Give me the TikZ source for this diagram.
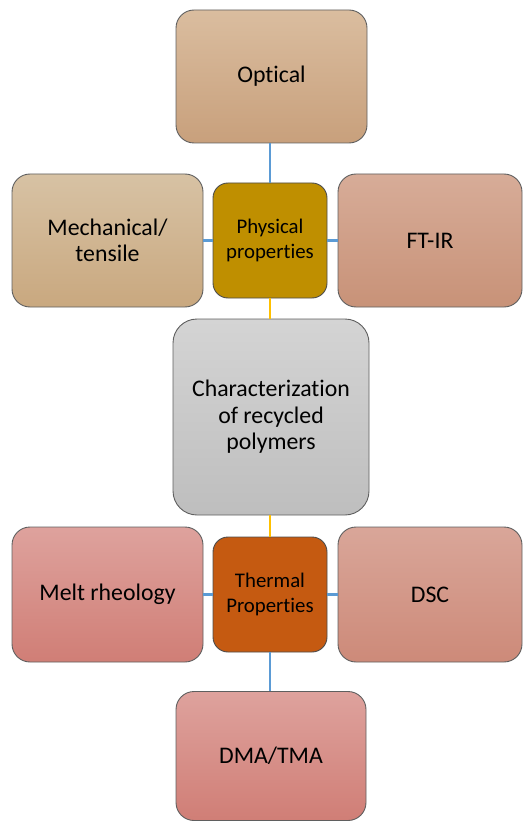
\documentclass[tikz,border=0pt]{standalone}
\usepackage{fontspec}
\setmainfont{Carlito}[Ligatures={NoCommon,NoRare}]
\newcommand{\nolig}{\kern0pt\relax}
\definecolor{linkblue}{RGB}{91,155,213}
\definecolor{linkgold}{RGB}{255,192,0}
\definecolor{edgegray}{RGB}{95,95,95}
\definecolor{optT}{RGB}{218,189,159}
\definecolor{optB}{RGB}{200,160,124}
\definecolor{mecT}{RGB}{215,194,164}
\definecolor{mecB}{RGB}{201,168,127}
\definecolor{ftT}{RGB}{215,172,152}
\definecolor{ftB}{RGB}{200,146,120}
\definecolor{chT}{RGB}{212,212,212}
\definecolor{chB}{RGB}{190,190,190}
\definecolor{meT}{RGB}{222,162,157}
\definecolor{meB}{RGB}{208,126,118}
\definecolor{dsT}{RGB}{217,166,153}
\definecolor{dsB}{RGB}{205,138,121}
\definecolor{physfill}{RGB}{191,143,0}
\definecolor{thermfill}{RGB}{197,90,17}
\tikzset{
  bigbox/.style={draw=edgegray, line width=0.9pt, rounded corners=18pt, inner sep=0pt, align=center,
    font=\fontsize{23.8}{26.5}\selectfont, text=black},
  smallbox/.style={draw=edgegray!80!black, line width=0.9pt, rounded corners=15pt, inner sep=0pt, align=center,
    font=\fontsize{20.8}{25}\selectfont, text=black, minimum width=114pt, minimum height=115pt},
  bluelink/.style={draw=linkblue, line width=2.2pt},
  goldlink/.style={draw=linkgold, line width=2.2pt}
}
\begin{document}
\begin{tikzpicture}[x=1pt,y=-1pt]
\useasboundingbox (0,0) rectangle (525,821);
\node[bigbox, top color=optT, bottom color=optB, minimum width=191pt, minimum height=133pt] (opt) at (271.5,76.5) {Optical};
\node[bigbox, top color=mecT, bottom color=mecB, minimum width=191pt, minimum height=133pt] (mec) at (107.5,240.5) {Mechanical/\\tensile};
\node[smallbox, fill=physfill] (phys) at (270,240.5) {Physical\\propert\nolig ies};
\node[bigbox, top color=ftT, bottom color=ftB, minimum width=184pt, minimum height=133pt] (ftir) at (430,240.5) {FT-IR};
\node[bigbox, rounded corners=24pt, top color=chT, bottom color=chB, minimum width=196pt, minimum height=196pt] (char) at (271,417) {Characterizat\nolig ion\\of recycled\\polymers};
\node[bigbox, top color=meT, bottom color=meB, minimum width=191pt, minimum height=135pt] (melt) at (107.5,594.5) {Melt rheology};
\node[smallbox, fill=thermfill] (therm) at (270,594.5) {Thermal\\Propert\nolig ies};
\node[bigbox, top color=dsT, bottom color=dsB, minimum width=184pt, minimum height=135pt] (dsc) at (430,594.5) {DSC};
\node[bigbox, top color=meT, bottom color=meB, minimum width=190pt, minimum height=129pt] (dma) at (271,756) {DMA/TMA};
\draw[bluelink] (opt.south -| phys.north) -- (phys.north);
\draw[bluelink] (phys.west) -- (mec.east |- phys.west);
\draw[bluelink] (phys.east) -- (ftir.west |- phys.east);
\draw[goldlink] (phys.south) -- (char.north -| phys.south);
\draw[goldlink] (char.south -| therm.north) -- (therm.north);
\draw[bluelink] (therm.west) -- (melt.east |- therm.west);
\draw[bluelink] (therm.east) -- (dsc.west |- therm.east);
\draw[bluelink] (therm.south) -- (dma.north -| therm.south);
\end{tikzpicture}
\end{document}
